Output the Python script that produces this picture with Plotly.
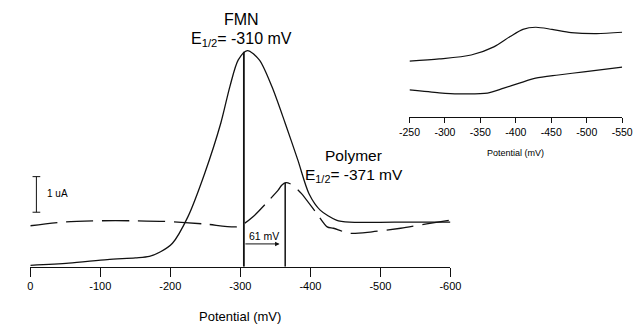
import plotly.graph_objects as go

W, H = 643, 328

# ---- Main voltammograms: potential (mV) vs current (uA) ----
fmn_potential = [0, -55, -110, -150, -170, -186, -203, -225, -249, -272, -285, -297, -310,
                 -327, -345, -364, -382, -398, -414, -437, -456, -520, -600]
fmn_current = [0.04, 0.10, 0.20, 0.25, 0.29, 0.42, 0.66, 1.40, 2.62, 4.03, 5.06, 5.81, 6.07,
               5.81, 5.06, 4.03, 3.00, 2.05, 1.59, 1.31, 1.25, 1.25, 1.25]

poly_potential = [0, -51, -101, -147, -193, -249, -295, -306, -318, -341, -354, -359, -365,
                  -371, -377, -387, -410, -424, -433, -456, -488, -529, -566, -600]
poly_current = [1.15, 1.26, 1.29, 1.29, 1.27, 1.20, 1.12, 1.22, 1.40, 1.87, 2.15, 2.29, 2.36,
                2.33, 2.25, 2.06, 1.47, 1.12, 1.08, 0.94, 0.98, 1.08, 1.20, 1.31]

# peak markers (potential, current)
fmn_peak = [-305, 6.04]
poly_peak = [-364, 2.36]

main_ticks = [0, -100, -200, -300, -400, -500, -600]
main_ticktext = ["0", "-100", "-200", "-300", "-400", "-500", "-600"]

# ---- Inset ----
inset_upper_potential = [-250, -292, -337, -369, -392, -410, -428, -451, -478, -514, -550]
inset_upper_current = [1.57, 1.63, 1.74, 1.97, 2.26, 2.46, 2.52, 2.46, 2.37, 2.34, 2.38]
inset_lower_potential = [-250, -292, -319, -360, -383, -405, -428, -460, -496, -550]
inset_lower_current = [0.76, 0.68, 0.65, 0.67, 0.81, 0.95, 1.09, 1.18, 1.27, 1.40]

inset_ticks = [-250, -300, -350, -400, -450, -500, -550]
inset_ticktext = ["-250", "-300", "-350", "-400", "-450", "-500", "-550"]

FONT = "Liberation Sans, Arial, sans-serif"
INK = "#111111"
TXT = "#000000"

fig = go.Figure()

fig.add_trace(go.Scatter(x=fmn_potential, y=fmn_current, mode="lines",
                         line=dict(color=INK, width=1.3, shape="spline", smoothing=0.8),
                         xaxis="x", yaxis="y", hoverinfo="skip"))
fig.add_trace(go.Scatter(x=poly_potential, y=poly_current, mode="lines",
                         line=dict(color=INK, width=1.3, shape="spline", smoothing=0.8,
                                   dash="27px,9px"),
                         xaxis="x", yaxis="y", hoverinfo="skip"))
fig.add_trace(go.Scatter(x=[fmn_peak[0], fmn_peak[0]], y=[0, fmn_peak[1]], mode="lines",
                         line=dict(color=INK, width=1.8), hoverinfo="skip"))
fig.add_trace(go.Scatter(x=[poly_peak[0], poly_peak[0]], y=[0, poly_peak[1]], mode="lines",
                         line=dict(color=INK, width=1.5), hoverinfo="skip"))

fig.add_trace(go.Scatter(x=inset_upper_potential, y=inset_upper_current, mode="lines",
                         line=dict(color=INK, width=1.2, shape="spline", smoothing=0.8),
                         xaxis="x2", yaxis="y2", hoverinfo="skip"))
fig.add_trace(go.Scatter(x=inset_lower_potential, y=inset_lower_current, mode="lines",
                         line=dict(color=INK, width=1.2, shape="spline", smoothing=0.8),
                         xaxis="x2", yaxis="y2", hoverinfo="skip"))

def px_x(p):
    return p / W

def px_y(p):
    return 1 - p / H

fig.update_layout(
    width=W, height=H,
    margin=dict(l=0, r=0, t=0, b=0),
    paper_bgcolor="white", plot_bgcolor="white",
    showlegend=False,
    font=dict(family=FONT, color=TXT),
    xaxis=dict(domain=[px_x(20), px_x(455)], range=[0, -600],
               tickvals=main_ticks, ticktext=main_ticktext,
               ticks="outside", ticklen=9, tickwidth=1.3, tickcolor=INK,
               showline=True, linecolor=INK, linewidth=1.4,
               showgrid=False, zeroline=False, tickfont=dict(size=11, color=TXT),
               anchor="y"),
    yaxis=dict(domain=[px_y(266.7), 1], range=[0, 266.7 / 35.6],
               visible=False, showgrid=False, zeroline=False),
    xaxis2=dict(domain=[px_x(412.6), px_x(632.8)], range=[-250, -550],
                tickvals=inset_ticks, ticktext=inset_ticktext,
                ticks="outside", ticklen=5, tickwidth=1, tickcolor=INK,
                showline=True, linecolor=INK, linewidth=1.1,
                showgrid=False, zeroline=False, tickfont=dict(size=10.5, color=TXT),
                anchor="y2"),
    yaxis2=dict(domain=[px_y(117), px_y(17.3)], range=[0, 2.8],
                visible=False, showgrid=False, zeroline=False),
)

ann = []
ann.append(dict(text="FMN", x=px_x(239), y=px_y(19), xref="paper", yref="paper",
                showarrow=False, font=dict(size=16), xanchor="center", yanchor="middle"))
ann.append(dict(text="E<sub>1/2</sub>= -310 mV", x=px_x(239), y=px_y(39), xref="paper", yref="paper",
                showarrow=False, font=dict(size=16), xanchor="center", yanchor="middle"))
ann.append(dict(text="Polymer", x=px_x(355), y=px_y(155), xref="paper", yref="paper",
                showarrow=False, font=dict(size=15.5), xanchor="center", yanchor="middle"))
ann.append(dict(text="E<sub>1/2</sub>= -371 mV", x=px_x(355), y=px_y(175), xref="paper", yref="paper",
                showarrow=False, font=dict(size=15.5), xanchor="center", yanchor="middle"))
ann.append(dict(text="Potential (mV)", x=px_x(237), y=px_y(316), xref="paper", yref="paper",
                showarrow=False, font=dict(size=13), xanchor="center", yanchor="middle"))
ann.append(dict(text="Potential (mV)", x=px_x(522.7), y=px_y(153), xref="paper", yref="paper",
                showarrow=False, font=dict(size=9), xanchor="center", yanchor="middle"))
# 61 mV shift arrow
ann.append(dict(text="", x=poly_peak[0] + 8, y=0.64, ax=fmn_peak[0], ay=0.64,
                xref="x", yref="y", axref="x", ayref="y",
                showarrow=True, arrowhead=2, arrowsize=0.9, arrowwidth=1, arrowcolor=INK))
ann.append(dict(text="61 mV", x=fmn_peak[0] - 4, y=0.86, xref="x", yref="y",
                showarrow=False, font=dict(size=10.5), xanchor="left", yanchor="middle"))
# 1 uA scale bar label
ann.append(dict(text="1 uA", x=px_x(35), y=px_y(193.5), xref="paper", yref="paper",
                showarrow=False, font=dict(size=10), xanchor="left", yanchor="middle"))
fig.update_layout(annotations=ann)

# scale bar (1 uA) in data units
bar_x = -8.7
bar_bottom = 1.53
bar_top = bar_bottom + 1.0
cap = 5.5
shapes = [
    dict(type="line", xref="x", yref="y", x0=bar_x, x1=bar_x, y0=bar_bottom, y1=bar_top,
         line=dict(color=INK, width=1)),
    dict(type="line", xref="x", yref="y", x0=bar_x - cap, x1=bar_x + cap, y0=bar_bottom, y1=bar_bottom,
         line=dict(color=INK, width=1)),
    dict(type="line", xref="x", yref="y", x0=bar_x - cap, x1=bar_x + cap, y0=bar_top, y1=bar_top,
         line=dict(color=INK, width=1)),
]
fig.update_layout(shapes=shapes)

fig.write_html("out.html", config={"displayModeBar": False, "staticPlot": True},
               post_script="document.body.style.margin='0';")
